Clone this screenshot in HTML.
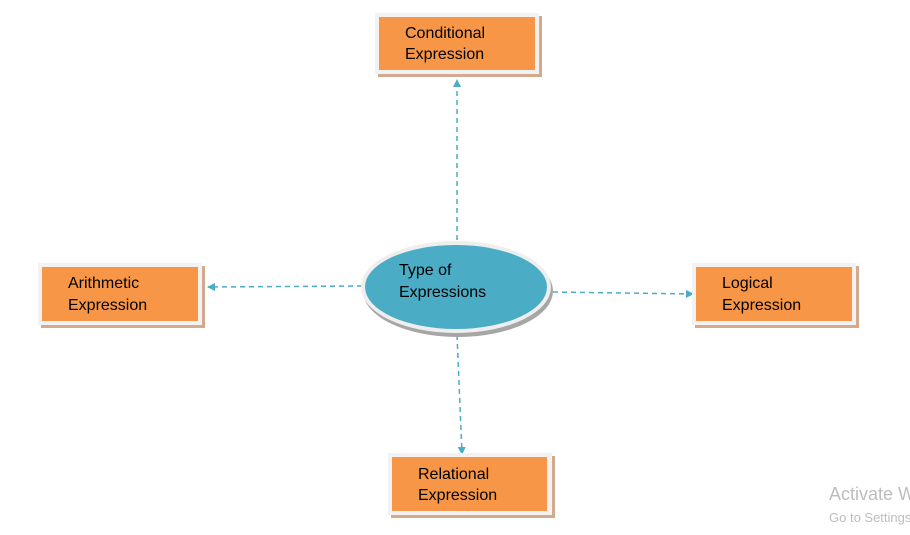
<!DOCTYPE html>
<html><head><meta charset="utf-8"><style>
html,body{margin:0;padding:0;background:#fff;width:910px;height:535px;overflow:hidden}
text{font-family:"Liberation Sans",Arial,sans-serif}
</style></head><body>
<svg width="910" height="535" xmlns="http://www.w3.org/2000/svg">
<defs>
<marker id="a" markerWidth="8" markerHeight="8" refX="7" refY="4" orient="auto" markerUnits="userSpaceOnUse">
<path d="M0,0 L8,4 L0,8 z" fill="#4bacc6"/></marker>
</defs>
<g stroke="#4bacc6" stroke-width="1.5" stroke-dasharray="5,4" fill="none">
<line x1="457" y1="240" x2="457" y2="80" marker-end="url(#a)"/>
<line x1="362" y1="286" x2="208" y2="287" marker-end="url(#a)"/>
<line x1="553" y1="292" x2="693" y2="294" marker-end="url(#a)"/>
<line x1="457" y1="335" x2="462" y2="454" marker-end="url(#a)"/>
</g>
<g>
<!-- Conditional -->
<rect x="378" y="16" width="164" height="61" fill="#d4a98c"/>
<rect x="375" y="13" width="164" height="61" fill="#f2f2f2"/>
<rect x="379" y="17" width="156" height="53" fill="#f79646"/>
<text x="405" y="38" font-size="16">Conditional</text>
<text x="405" y="59" font-size="16">Expression</text>
<!-- Arithmetic -->
<rect x="41" y="266" width="164" height="62" fill="#d4a98c"/>
<rect x="38" y="263" width="164" height="62" fill="#f2f2f2"/>
<rect x="42" y="267" width="156" height="54" fill="#f79646"/>
<text x="68" y="288" font-size="16">Arithmetic</text>
<text x="68" y="310" font-size="16">Expression</text>
<!-- Logical -->
<rect x="695" y="266" width="164" height="62" fill="#d4a98c"/>
<rect x="692" y="263" width="164" height="62" fill="#f2f2f2"/>
<rect x="696" y="267" width="156" height="54" fill="#f79646"/>
<text x="722" y="288" font-size="16">Logical</text>
<text x="722" y="310" font-size="16">Expression</text>
<!-- Relational -->
<rect x="391" y="456" width="164" height="62" fill="#d4a98c"/>
<rect x="388" y="453" width="164" height="62" fill="#f2f2f2"/>
<rect x="392" y="457" width="155" height="54" fill="#f79646"/>
<text x="418" y="479" font-size="16">Relational</text>
<text x="418" y="500" font-size="16">Expression</text>
</g>
<!-- Ellipse -->
<ellipse cx="458" cy="291" rx="95" ry="46" fill="#a6a6a6"/>
<ellipse cx="456" cy="287" rx="95" ry="46" fill="#eeeeee"/>
<ellipse cx="456" cy="287" rx="91" ry="42" fill="#4bacc6"/>
<text x="399" y="275" font-size="16">Type of</text>
<text x="399" y="297" font-size="16">Expressions</text>
<text x="829" y="500" font-size="18" fill="#bdbdbd">Activate W</text>
<text x="829" y="522" font-size="13" fill="#bdbdbd">Go to Settings</text>
</svg>
</body></html>
